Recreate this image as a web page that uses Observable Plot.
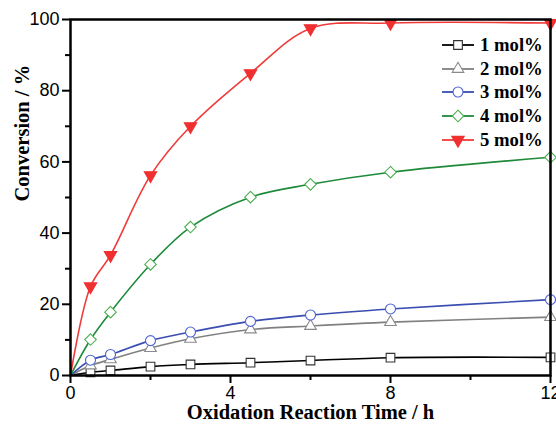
<!DOCTYPE html>
<html>
<head>
<meta charset="utf-8">
<script src="https://cdn.jsdelivr.net/npm/d3@7"></script>
<script src="https://cdn.jsdelivr.net/npm/@observablehq/plot@0.6"></script>
<style>
  html, body { margin: 0; padding: 0; background: #fff; }
  #wrap { position: relative; width: 556px; height: 427px; }
  #legend { position: absolute; left: 440px; top: 33px; font: bold 18.7px "Liberation Serif", "Times New Roman", serif; color: #000; }
  #legend .row { display: flex; align-items: center; height: 23.8px; }
  #legend svg { display: block; margin-right: 4px; }
</style>
</head>
<body>
<div id="wrap"><div id="legend"></div></div>
<script>
const times = [0, 0.5, 1, 2, 3, 4.5, 6, 8, 12];
const seriesNames = ["1 mol%", "2 mol%", "3 mol%", "4 mol%", "5 mol%"];
const conv1 = [0, 0.9, 1.4, 2.5, 3.1, 3.6, 4.2, 5.0, 5.1];
const conv2 = [0, 2.8, 4.5, 7.7, 10.3, 12.9, 13.9, 15.0, 16.4];
const conv3 = [0, 4.3, 5.9, 9.8, 12.2, 15.2, 17.0, 18.7, 21.3];
const conv4 = [0, 10.1, 17.8, 31.2, 41.7, 50.1, 53.7, 57.1, 61.3];
const conv5 = [0, 25.0, 33.8, 56.2, 70.0, 84.9, 97.5, 99.0, 99.0];
const xTicks = [0, 4, 8, 12];
const xMinor = [2, 6, 10];
const yTicks = [0, 20, 40, 60, 80, 100];
const yMinor = [10, 30, 50, 70, 90];

const styles = [
  {line: "#000000", mark: "#333333", symbol: "square", fill: "white", rotate: 0, r: 4.9},
  {line: "#808080", mark: "#8a8a8a", symbol: "triangle", fill: "white", rotate: 0, r: 4.3},
  {line: "#3a4db0", mark: "#4f63d0", symbol: "circle", fill: "white", rotate: 0, r: 5},
  {line: "#1e8a3a", mark: "#4caf50", symbol: "diamond2", fill: "white", rotate: 0, r: 5.2},
  {line: "#f03a3a", mark: "#f03030", symbol: "triangle", fill: "#f03030", rotate: 180, r: 4.6}
];
const allConv = [conv1, conv2, conv3, conv4, conv5];
const seriesData = allConv.map((vals, i) => times.map((t, j) => ({t, v: vals[j], s: seriesNames[i]})));

const marks = [];
seriesData.forEach((d, i) => {
  const st = styles[i];
  marks.push(Plot.line(d, {x: "t", y: "v", stroke: st.line, strokeWidth: 1.6, curve: "catmull-rom"}));
});
seriesData.forEach((d, i) => {
  const st = styles[i];
  marks.push(Plot.dot(d.filter(p => p.t > 0), {x: "t", y: "v", symbol: st.symbol, r: st.r, stroke: st.mark, fill: st.fill, strokeWidth: 1.1, rotate: st.rotate}));
});

const serif = "'Liberation Serif', 'Times New Roman', serif";
const chart = Plot.plot({
  width: 556, height: 427,
  marginLeft: 70, marginRight: 6, marginTop: 19, marginBottom: 52,
  style: {fontFamily: "'Liberation Sans', Arial, sans-serif", fontSize: "18px", color: "#000", background: "white"},
  x: {domain: [0, 12]},
  y: {domain: [0, 100]},
  marks: [
    ...marks,
    Plot.axisX({ticks: xTicks, tickSize: 8, tickPadding: 3, tickFormat: d => d, label: null, strokeWidth: 2}),
    Plot.axisX({ticks: xMinor, tickSize: 5, fill: "none", label: null, strokeWidth: 2}),
    Plot.axisY({ticks: yTicks, tickSize: 8, tickPadding: 3, tickFormat: d => d, label: null, strokeWidth: 2}),
    Plot.axisY({ticks: yMinor, tickSize: 5, fill: "none", label: null, strokeWidth: 2}),
    Plot.frame({stroke: "#000", strokeWidth: 2.5}),
    Plot.text(["Oxidation Reaction Time / h"], {frameAnchor: "bottom", dy: 43, fontWeight: "bold", fontFamily: serif, fontSize: 20.5}),
    Plot.text(["Conversion / %"], {frameAnchor: "left", dx: -48, dy: 4, rotate: -90, fontWeight: "bold", fontFamily: serif, fontSize: 20.5})
  ]
});
document.getElementById("wrap").prepend(chart);

// legend
const legend = d3.select("#legend");
seriesNames.forEach((name, i) => {
  const st = styles[i];
  const row = legend.append("div").attr("class", "row");
  const svg = row.append("svg").attr("width", 36).attr("height", 20);
  svg.append("line").attr("x1", 2).attr("x2", 34).attr("y1", 10).attr("y2", 10).attr("stroke", st.line).attr("stroke-width", 1.8);
  const sym = {square: d3.symbolSquare, triangle: d3.symbolTriangle, circle: d3.symbolCircle, diamond2: d3.symbolDiamond2}[st.symbol];
  const size = Math.PI * st.r * st.r;
  svg.append("path").attr("d", d3.symbol(sym, size)()).attr("transform", `translate(18,10) rotate(${st.rotate})`)
    .attr("fill", st.fill).attr("stroke", st.mark).attr("stroke-width", 1.1);
  row.append("span").text(name);
});
</script>
</body>
</html>
